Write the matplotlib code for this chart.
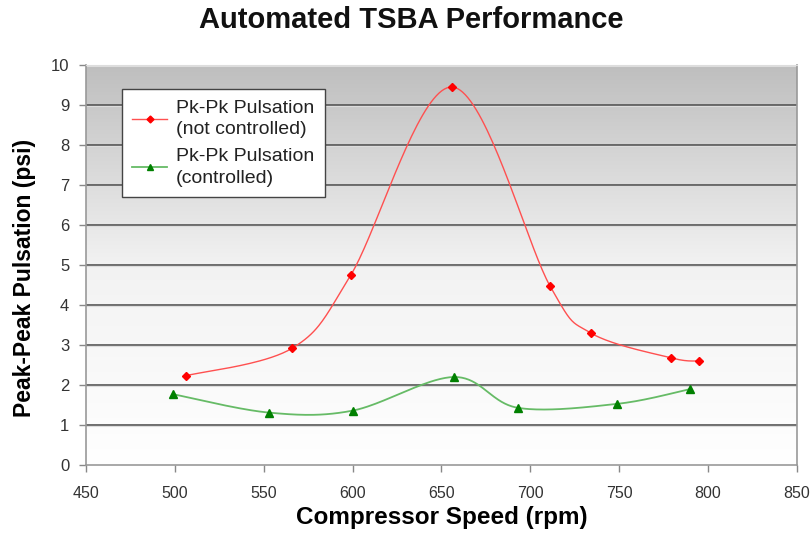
import numpy as np
import matplotlib
matplotlib.use("Agg")
import matplotlib.pyplot as plt
from matplotlib.lines import Line2D

plt.rcParams['font.family'] = ['Liberation Sans', 'DejaVu Sans']

# Data
red_x = [506, 566, 599, 656, 711, 734, 779, 795]
red_y = [2.23, 2.92, 4.75, 9.45, 4.48, 3.30, 2.68, 2.60]
green_x = [499, 553, 600, 657, 693, 749, 790]
green_y = [1.77, 1.31, 1.36, 2.20, 1.43, 1.53, 1.90]
x_ticks = [450, 500, 550, 600, 650, 700, 750, 800, 850]
y_ticks = [0, 1, 2, 3, 4, 5, 6, 7, 8, 9, 10]
red_label = "Pk-Pk Pulsation\n(not controlled)"
green_label = "Pk-Pk Pulsation\n(controlled)"


def smooth(xs, ys, n=40, tension=0.5):
    xs = np.asarray(xs, float); ys = np.asarray(ys, float)
    P = np.column_stack([xs, ys])
    P = np.vstack([P[0], P, P[-1]])
    out = []
    for i in range(1, len(P) - 2):
        p0, p1, p2, p3 = P[i - 1], P[i], P[i + 1], P[i + 2]
        m1 = tension * (p2 - p0)
        m2 = tension * (p3 - p1)
        t = np.linspace(0, 1, n)[:, None]
        h00 = 2 * t**3 - 3 * t**2 + 1
        h10 = t**3 - 2 * t**2 + t
        h01 = -2 * t**3 + 3 * t**2
        h11 = t**3 - t**2
        out.append(h00 * p1 + h10 * m1 + h01 * p2 + h11 * m2)
    c = np.vstack(out)
    return c[:, 0], c[:, 1]


fig = plt.figure(figsize=(8.12, 5.35), dpi=100)
ax = fig.add_axes([0.1059, 0.1308, 0.8756, 0.7477])

# gradient background
grad = np.linspace(0, 1, 256)[:, None]
cmap = matplotlib.colors.LinearSegmentedColormap.from_list("g", ["#ffffff", "#f2f2f2", "#bebebe"])
ax.imshow(grad, extent=[0, 1, 0, 1], transform=ax.transAxes, origin='lower',
          aspect='auto', cmap=cmap, zorder=0)

ax.set_xlim(450, 850)
ax.set_ylim(0, 10)
ax.set_xticks(x_ticks)
ax.set_yticks(y_ticks)
ax.tick_params(axis='both', labelsize=12, labelcolor='#333333', length=5, width=1,
               direction='out', pad=7, color='#888888')
ax.tick_params(axis='x', labelsize=11.5, pad=10)

for y in y_ticks[1:]:
    ax.axhline(y, color='#555555', lw=1.2, zorder=1)
    ax.axhline(y - 0.035, color='#dddddd', lw=0.8, zorder=1)

for s in ['left', 'bottom', 'right']:
    ax.spines[s].set_color('#999999')
    ax.spines[s].set_linewidth(1.2)
ax.spines['top'].set_color('#dddddd')

sx, sy = smooth(red_x, red_y)
ax.plot(sx, sy, color='#ff5050', lw=1.0, zorder=3)
ax.plot(red_x, red_y, linestyle='none', marker='D', ms=4, color='#ff0000', zorder=4)

gx, gy = smooth(green_x, green_y)
ax.plot(gx, gy, color='#66bb66', lw=1.3, zorder=3)
ax.plot(green_x, green_y, linestyle='none', marker='^', ms=5.5, color='#008000', zorder=4)

handles = [
    Line2D([], [], color='#ff5050', lw=1.0, marker='D', ms=3.5, mfc='#ff0000', mec='#ff0000'),
    Line2D([], [], color='#66bb66', lw=1.3, marker='^', ms=4.5, mfc='#008000', mec='#008000'),
]
leg = ax.legend(handles, [red_label, green_label], loc='upper left',
                bbox_to_anchor=(0.05, 0.94), fontsize=14, frameon=True,
                fancybox=False, edgecolor='#444444', framealpha=1,
                handlelength=1.8, handletextpad=0.45, labelspacing=0.5,
                borderpad=0.55, borderaxespad=0)
leg.get_frame().set_linewidth(1.0)
for t in leg.get_texts():
    t.set_color('#222222')
    t.set_linespacing(1.35)

fig.text(0.507, 0.962, "Automated TSBA Performance", ha='center', va='center',
         fontsize=21, fontweight='bold', color='#111111')
ax.set_xlabel("Compressor Speed (rpm)", fontsize=17.5, fontweight='bold', labelpad=4)
ax.set_ylabel("Peak-Peak Pulsation (psi)", fontsize=16.5, fontweight='bold')
ax.yaxis.set_label_coords(-0.070, 0.468)

fig.savefig("out.png", dpi=100)
